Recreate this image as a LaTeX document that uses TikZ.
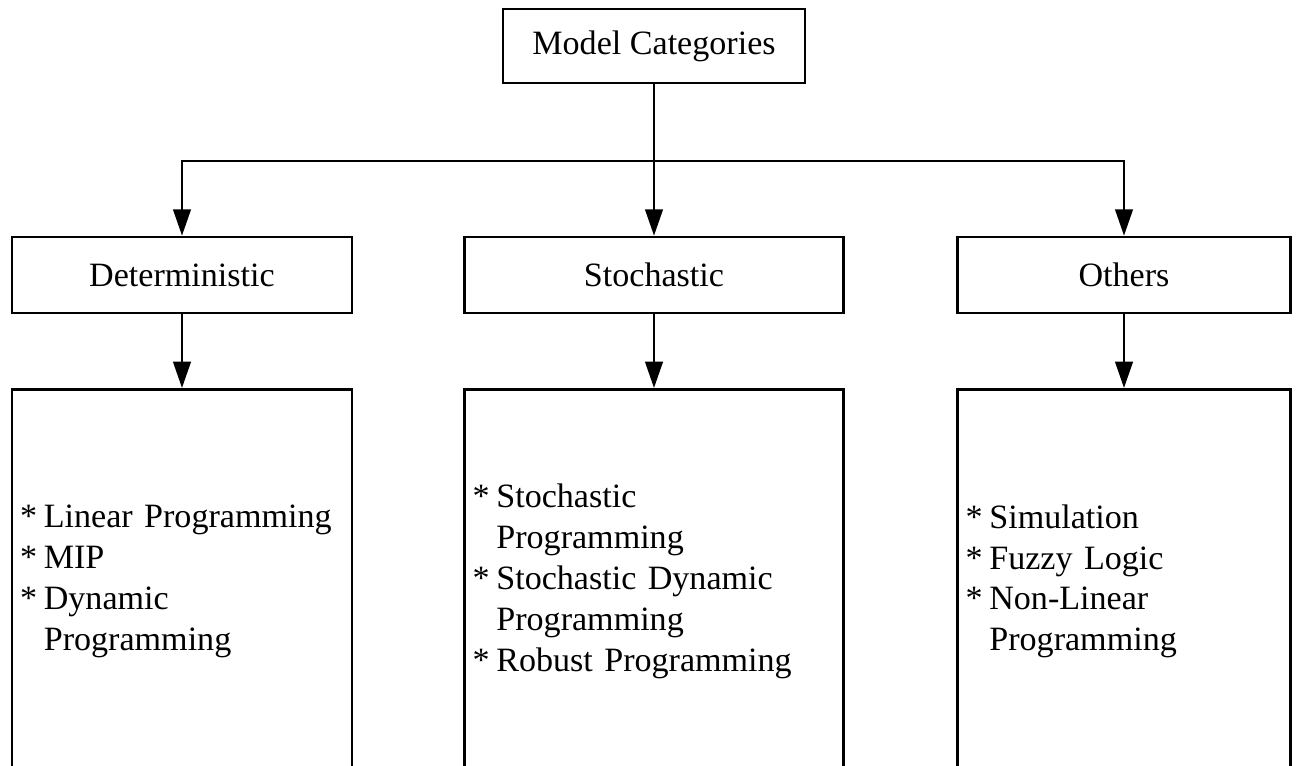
\documentclass[tikz,border=0pt]{standalone}
\usepackage{fontspec}
\setmainfont{Liberation Serif}
\usetikzlibrary{arrows.meta}
\usetikzlibrary{positioning}

% List mark and the indent that matches it
\newcommand{\mrk}{{*}\hspace{0.2em}}
\newcommand{\ind}{\hphantom{\mrk}}

\begin{document}
\begin{tikzpicture}[x=0.02cm, y=-0.02cm, every node/.style={draw, line width=1.5pt, inner sep=0pt, font=\fontsize{19.4}{23.3}\selectfont}, arr/.style={line width=1.4pt, -{Triangle[length=15pt, width=10pt]}}, list/.style={anchor=north, align=left, inner xsep=8*\px, minimum height=384*\px}]
        % One unit of the picture
        \def\px{0.02cm}

        \useasboundingbox (0,0) rectangle (1297,765);

        % Draw the top box
        \node[minimum width=302*\px, minimum height=74*\px] (model) at (654,46) {Model Categories};
        \coordinate (split) at (654,161);

        % Draw the three category boxes
        \node[minimum width=340*\px, minimum height=76*\px] (det) at (182,275) {Deterministic};
        \node[minimum width=379*\px, minimum height=76*\px] (stoch) at (654,275) {Stochastic};
        \node[minimum width=333*\px, minimum height=76*\px] (oth) at (1124,275) {Others};

        % Draw the method lists (cut off at the bottom)
        \node[list, text width=324*\px] (detlist) at (182,388) {\mrk Linear Programming\\\mrk MIP\\\mrk Dynamic\\\ind Programming};
        \node[list, text width=363*\px] (stochlist) at (654,388) {\mrk Stochastic\\\ind Programming\\\mrk Stochastic Dynamic\\\ind Programming\\\mrk Robust Programming};
        \node[list, text width=317*\px] (othlist) at (1124,388) {\mrk Simulation\\\mrk Fuzzy Logic\\\mrk Non-Linear\\\ind Programming};

        \draw[arr] (model) -- (stoch);
        \draw[arr] (split) -| (det);
        \draw[arr] (split) -| (oth);

        \draw[arr] (det) -- (detlist);
        \draw[arr] (stoch) -- (stochlist);
        \draw[arr] (oth) -- (othlist);
      \end{tikzpicture}
\end{document}
